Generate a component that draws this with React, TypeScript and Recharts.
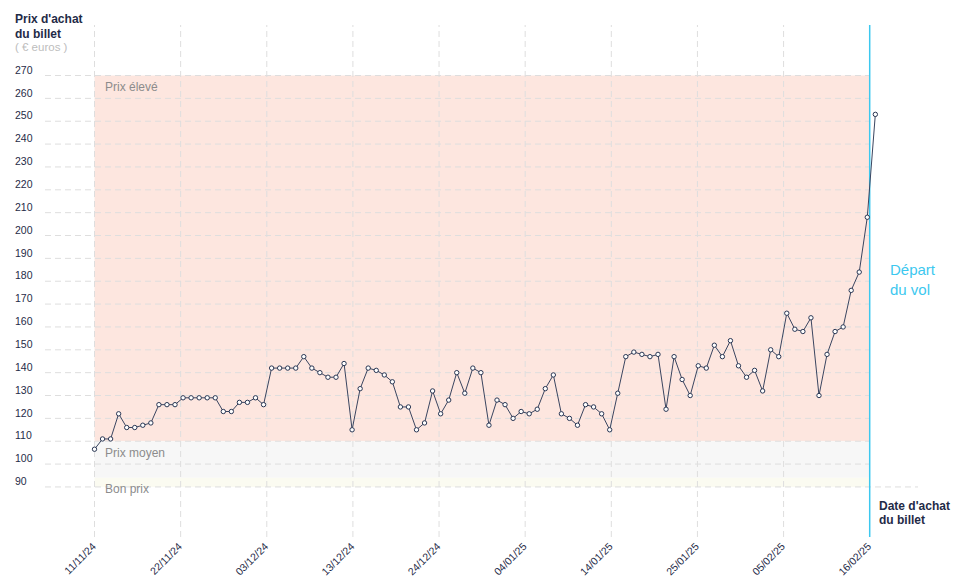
import React from "react";
import {
  ComposedChart,
  Line,
  XAxis,
  YAxis,
  ReferenceArea,
  ReferenceLine,
} from "recharts";

// ---- data ----
const prices: number[] = [
  106.5, 111, 111, 122, 116, 116, 117, 118, 126, 126,
  126, 129, 129, 129, 129, 129, 123, 123, 127, 127,
  129, 126, 142, 142, 142, 142, 147, 142, 140, 138,
  138, 144, 115, 133, 142, 141, 139, 136, 125, 125,
  115, 118, 132, 122, 128, 140, 131, 142, 140, 117,
  128, 126, 120, 123, 122, 124, 133, 139, 122, 120,
  117, 126, 125, 122, 115, 131, 147, 149, 148, 147,
  148, 124, 147, 137, 130, 143, 142, 152, 147, 154,
  143, 138, 141, 132, 150, 147, 166, 159, 158, 164,
  130, 148, 158, 160, 176, 184, 208, 253,
];

const dateLabels: string[] = [
  "11/11/24", "22/11/24", "03/12/24", "13/12/24", "24/12/24",
  "04/01/25", "14/01/25", "25/01/25", "05/02/25", "16/02/25",
];

const yTicks: number[] = [90, 100, 110, 120, 130, 140, 150, 160, 170, 180, 190, 200, 210, 220, 230, 240, 250, 260, 270];

// price bands
const highBand = { from: 110, to: 270 };
const midBand = { from: 94, to: 110 };
const lowBand = { from: 90, to: 94 };

// departure position on the purchase-day axis
const DEPART_INDEX = 96.3;
const X_DOMAIN: [number, number] = [-6.15, 102.3];
const Y_DOMAIN: [number, number] = [68.1, 292.1];

const data = prices.map((p, i) => ({ i, price: p }));
const xTicks = dateLabels.map((_, k) => (k * DEPART_INDEX) / (dateLabels.length - 1));

const NAVY = "#1f2b47";
const GRID = "#dedede";
const CYAN = "#3cc8ef";
const FONT = "'Liberation Sans', Arial, Helvetica, sans-serif";

const XTick = (props: any) => {
  const { x, y, payload } = props;
  const idx = xTicks.findIndex((t) => Math.abs(t - payload.value) < 1e-6);
  const label = idx >= 0 ? dateLabels[idx] : "";
  return (
    <text
      x={x}
      y={y}
      dy={3}
      textAnchor="end"
      fontSize={10.5}
      fontFamily={FONT}
      fill={NAVY}
      transform={`rotate(-45 ${x} ${y})`}
    >
      {label}
    </text>
  );
};

const YTick = (props: any) => {
  const { y, payload } = props;
  return (
    <text
      x={15}
      y={y - 5.5}
      dy="0.35em"
      textAnchor="start"
      fontSize={10.5}
      fontFamily={FONT}
      fill={NAVY}
    >
      {payload.value}
    </text>
  );
};

const abs = (style: React.CSSProperties): React.CSSProperties => ({
  position: "absolute",
  fontFamily: FONT,
  whiteSpace: "nowrap",
  ...style,
});

export default function App() {
  return (
    <div style={{ position: "absolute", left: 0, top: 0, width: 958, height: 585, background: "#fff" }}>
      <ComposedChart
        width={958}
        height={585}
        data={data}
        margin={{ top: 25, right: 40, bottom: 0, left: 15 }}
      >
        <XAxis
          type="number"
          dataKey="i"
          domain={X_DOMAIN}
          ticks={xTicks}
          interval={0}
          axisLine={false}
          tickLine={false}
          height={48}
          tick={<XTick />}
          allowDataOverflow
        />
        <YAxis
          type="number"
          domain={Y_DOMAIN}
          ticks={yTicks}
          interval={0}
          axisLine={false}
          tickLine={false}
          width={30}
          tick={<YTick />}
          allowDataOverflow
        />
        <ReferenceArea x1={0} x2={DEPART_INDEX} y1={highBand.from} y2={highBand.to} fill="#fde6df" fillOpacity={1} stroke="none" />
        <ReferenceArea x1={0} x2={DEPART_INDEX} y1={midBand.from} y2={midBand.to} fill="#f7f7f7" fillOpacity={1} stroke="none" />
        <ReferenceArea x1={0} x2={DEPART_INDEX} y1={lowBand.from} y2={lowBand.to} fill="#fbfbf1" fillOpacity={1} stroke="none" />
        {yTicks.map((v) => (
          <ReferenceLine
            key={"h" + v}
            segment={[
              { x: X_DOMAIN[0], y: v },
              { x: v === yTicks[0] ? X_DOMAIN[1] : DEPART_INDEX, y: v },
            ]}
            stroke={GRID}
            strokeWidth={1}
            strokeDasharray="6 4"
          />
        ))}
        {xTicks.slice(0, -1).map((t) => (
          <ReferenceLine key={"v" + t} x={t} stroke={GRID} strokeWidth={1} strokeDasharray="6 4" />
        ))}
        <ReferenceLine x={DEPART_INDEX} stroke={CYAN} strokeWidth={1.5} />
        <Line
          type="linear"
          dataKey="price"
          stroke="#3a4560"
          strokeWidth={1}
          isAnimationActive={false}
          dot={{ r: 2.2, fill: "#fff", stroke: "#2a3754", strokeWidth: 1 }}
          activeDot={false}
        />
      </ComposedChart>

      <div style={abs({ left: 15, top: 11.5, fontSize: 12, fontWeight: 700, color: NAVY, lineHeight: "15px" })}>
        Prix d'achat
        <br />
        du billet
      </div>
      <div style={abs({ left: 15, top: 40, fontSize: 11.5, color: "#bdbdbd", lineHeight: "14px" })}>( € euros )</div>

      <div style={abs({ left: 105, top: 79, fontSize: 12, color: "#8c8c8c", lineHeight: "16px" })}>Prix élevé</div>
      <div style={abs({ left: 105, top: 444.5, fontSize: 12, color: "#8c8c8c", lineHeight: "16px" })}>Prix moyen</div>
      <div style={abs({ left: 105, top: 480.5, fontSize: 12, color: "#8c8c8c", lineHeight: "16px" })}>Bon prix</div>

      <div style={abs({ left: 890, top: 260, fontSize: 15, color: CYAN, lineHeight: "20px" })}>
        Départ
        <br />
        du vol
      </div>
      <div style={abs({ left: 879, top: 498.5, fontSize: 12, fontWeight: 700, color: NAVY, lineHeight: "14.7px" })}>
        Date d'achat
        <br />
        du billet
      </div>
    </div>
  );
}
